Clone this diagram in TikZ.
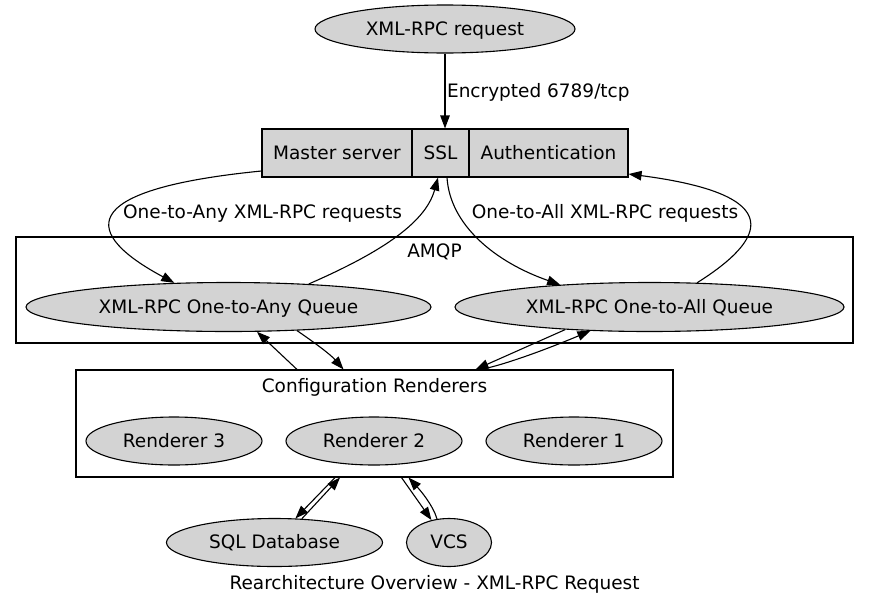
\documentclass[tikz,border=0pt]{standalone}
\usepackage{fontspec}
\setmainfont{DejaVu Sans}
\usetikzlibrary{shapes.geometric,arrows.meta,calc}
\definecolor{lgray}{HTML}{D3D3D3}
\begin{document}
\begin{tikzpicture}[x=1pt,y=-1pt, line width=1.1pt,
  every node/.style={font=\fontsize{18.5}{22}\selectfont, text height=15.5pt, text depth=3.5pt},
  ell/.style={ellipse, draw, fill=lgray, inner sep=0pt, minimum height=48pt},
  rec/.style={rectangle, draw, fill=lgray, inner sep=0pt, minimum height=48pt},
  clus/.style={rectangle, draw, inner sep=0pt},
  arr/.style={-{Triangle[length=13pt,width=9.5pt]}},
  lbl/.style={inner sep=0pt}]
\useasboundingbox (0,0) rectangle (869,608);
% nodes
\node[ell, minimum width=260pt] (req) at (445,29) {XML-RPC request};
\node[rec, minimum width=150pt] (ms) at (337,153) {Master server};
\node[rec, minimum width=57pt] (ssl) at (440.5,153) {SSL};
\node[rec, minimum width=159pt] (auth) at (548.5,153) {Authentication};
\node[clus, minimum width=837pt, minimum height=106pt] (amqp) at (434.5,290) {};
\node[lbl] (amqpl) at (434.5,251) {AMQP};
\node[ell, minimum width=405pt, minimum height=49pt] (anyq) at (228.5,307) {XML-RPC One-to-Any Queue};
\node[ell, minimum width=389pt, minimum height=49pt] (allq) at (649.5,307) {XML-RPC One-to-All Queue};
\node[clus, minimum width=597pt, minimum height=107pt] (cr) at (374.5,423.5) {};
\node[lbl] (crl) at (374.5,386) {Configuration Renderers};
\node[ell, minimum width=176pt] (r3) at (174,441) {Renderer 3};
\node[ell, minimum width=176pt] (r2) at (374,441) {Renderer 2};
\node[ell, minimum width=176pt] (r1) at (574,441) {Renderer 1};
\node[ell, minimum width=216pt] (sql) at (274.5,542.5) {SQL Database};
\node[ell, minimum width=85pt] (vcs) at (449,542.5) {VCS};
\node[lbl] (cap) at (434.5,583) {Rearchitecture Overview - XML-RPC Request};
% labels
\node[lbl] (l1) at (262.5,212) {One-to-Any XML-RPC requests};
\node[lbl] (l2) at (605,212) {One-to-All XML-RPC requests};
% edges
\draw[arr] (req.south) -- (req.south |- ms.north)
  node[midway, right, lbl, xshift=1.5pt] (enc) {Encrypted 6789/tcp};
\draw[arr] ([yshift=-18pt]ms.west) .. controls (70,190) and (85,235) .. (anyq.156.7);
\draw[arr] (anyq.16) .. controls (375,255) and (425,225) .. ([xshift=-2.5pt]ssl.south);
\draw[arr] ([xshift=6.5pt]ssl.south) .. controls (450,225) and (495,262) .. (allq.166);
\draw[arr] (allq.27) .. controls (765,240) and (790,195) .. ([yshift=-21pt]auth.east);
% between clusters
\draw[arr] ([xshift=-77.5pt]cr.north) -- (anyq.-41);
\draw[arr] (anyq.-19) .. controls (315,343) and (330,354) .. ([xshift=-31pt]cr.north);
\draw[arr] (allq.195.7) -- ([xshift=101pt]cr.north);
\draw[arr] ([xshift=106pt]cr.north) .. controls (500,366) and (540,352) .. (allq.202);
% bottom
\draw[arr] ([xshift=-39.5pt]cr.south) -- (sql.49.7);
\draw[arr] (sql.41.9) -- ([xshift=-34.5pt]cr.south);
\draw[arr] ([xshift=27pt]cr.south) -- (vcs.128);
\draw[arr] (vcs.117) .. controls (433,505) and (420,490) .. ([xshift=34pt]cr.south);
\end{tikzpicture}
\end{document}
